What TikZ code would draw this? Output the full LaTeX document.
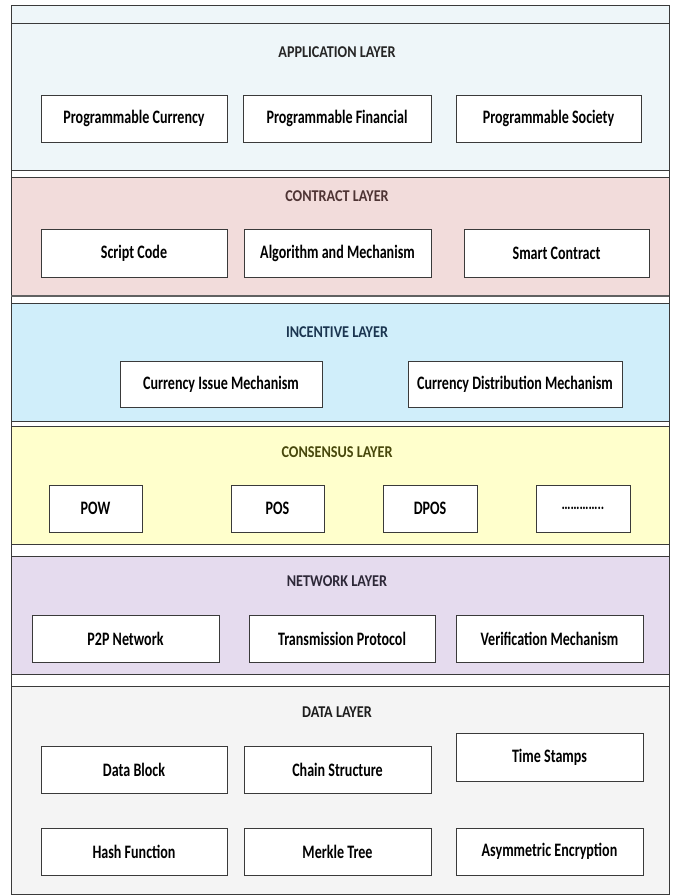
\documentclass[tikz,border=0pt]{standalone}
\usepackage{fontspec}
\setmainfont{Carlito}
\newfontfamily\itemfont[FakeStretch=0.74]{Carlito}
\newfontfamily\headfont[FakeStretch=0.86]{Carlito}

\definecolor{appfill}{HTML}{EEF6F9}
\definecolor{contractfill}{HTML}{F2DCDB}
\definecolor{incentivefill}{HTML}{D0EEFA}
\definecolor{consensusfill}{HTML}{FFFFCC}
\definecolor{networkfill}{HTML}{E5DBEE}
\definecolor{datafill}{HTML}{F4F4F4}
\definecolor{edge}{HTML}{3A3A3A}
\definecolor{apptext}{HTML}{262626}
\definecolor{contracttext}{HTML}{4E3434}
\definecolor{incentivetext}{HTML}{1B3550}
\definecolor{consensustext}{HTML}{48480C}
\definecolor{networktext}{HTML}{2D2838}
\definecolor{datatext}{HTML}{1E1E1E}

\begin{document}
\begin{tikzpicture}[x=1pt,y=-1pt,
  layer/.style={draw=edge,line width=0.9pt},
  item/.style={draw=edge,fill=white,line width=0.9pt,inner sep=0pt,
    font=\itemfont\bfseries\fontsize{19}{22}\selectfont,text=black},
  heading/.style={inner sep=0pt,font=\headfont\bfseries\fontsize{16.5}{19}\selectfont}]
\useasboundingbox (0,0) rectangle (673,895);

% outer frame and layer bands
\draw[layer,fill=white] (11,5) rectangle (669,894);
\draw[layer,fill=appfill] (11,5) rectangle (669,23);
\draw[layer,fill=appfill] (11,23) rectangle (669,170);
\draw[layer,fill=contractfill] (11,177) rectangle (669,296);
\draw[draw=edge!80,line width=2pt] (11,296) -- (669,296);
\draw[layer,fill=incentivefill] (11,303) rectangle (669,421);
\draw[layer,fill=consensusfill] (11,426) rectangle (669,544);
\draw[layer,fill=networkfill] (11,556) rectangle (669,674);
\draw[layer,fill=datafill] (11,686) rectangle (669,894);

% application layer
\node[heading,text=apptext] (tapp) at (337,52) {APPLICATION LAYER};
\node[item,minimum width=186pt,minimum height=47pt] (pcur) at (134,118.5) {Programmable Currency};
\node[item,minimum width=188pt,minimum height=47pt] (pfin) at (337,118.5) {Programmable Financial};
\node[item,minimum width=185pt,minimum height=47pt] (psoc) at (548.5,118.5) {Programmable Society};

% contract layer
\node[heading,text=contracttext] (tcon) at (337,196) {CONTRACT LAYER};
\node[item,minimum width=186pt,minimum height=48pt] (script) at (134,253) {Script Code};
\node[item,minimum width=187pt,minimum height=48pt] (algo) at (337.5,253) {Algorithm and Mechanism};
\node[item,minimum width=185pt,minimum height=48pt] (smart) at (556.5,253) {Smart Contract};

% incentive layer
\node[heading,text=incentivetext] (tinc) at (337,332) {INCENTIVE LAYER};
\node[item,minimum width=202pt,minimum height=46pt] (issue) at (221,384) {Currency Issue Mechanism};
\node[item,minimum width=214pt,minimum height=46pt] (distr) at (515,384) {Currency Distribution Mechanism};

% consensus layer
\node[heading,text=consensustext] (tcons) at (337,452) {CONSENSUS LAYER};
\node[item,minimum width=93pt,minimum height=47pt] (pow) at (95.5,508.5) {POW};
\node[item,minimum width=93pt,minimum height=47pt] (pos) at (277.5,508.5) {POS};
\node[item,minimum width=94pt,minimum height=47pt] (dpos) at (430,508.5) {DPOS};
\node[item,minimum width=94pt,minimum height=47pt,font=\itemfont\bfseries\fontsize{17}{20}\selectfont] (more) at (583,508.5) {…………..};

% network layer
\node[heading,text=networktext] (tnet) at (337,581) {NETWORK LAYER};
\node[item,minimum width=187pt,minimum height=47pt] (p2p) at (125.5,638.5) {P2P Network};
\node[item,minimum width=186pt,minimum height=47pt] (trans) at (342,638.5) {Transmission Protocol};
\node[item,minimum width=187pt,minimum height=47pt] (verif) at (549.5,638.5) {Verification Mechanism};

% data layer
\node[heading,text=datatext] (tdata) at (337,712) {DATA LAYER};
\node[item,minimum width=186pt,minimum height=47pt] (block) at (134,769.5) {Data Block};
\node[item,minimum width=187pt,minimum height=47pt] (chain) at (337.5,769.5) {Chain Structure};
\node[item,minimum width=187pt,minimum height=48pt] (stamp) at (549.5,757) {Time Stamps};
\node[item,minimum width=186pt,minimum height=47pt] (hash) at (134,851.5) {Hash Function};
\node[item,minimum width=187pt,minimum height=47pt] (merkle) at (337.5,851.5) {Merkle Tree};
\node[item,minimum width=187pt,minimum height=47pt] (asym) at (549.5,851.5) {Asymmetric Encryption};
\end{tikzpicture}
\end{document}
